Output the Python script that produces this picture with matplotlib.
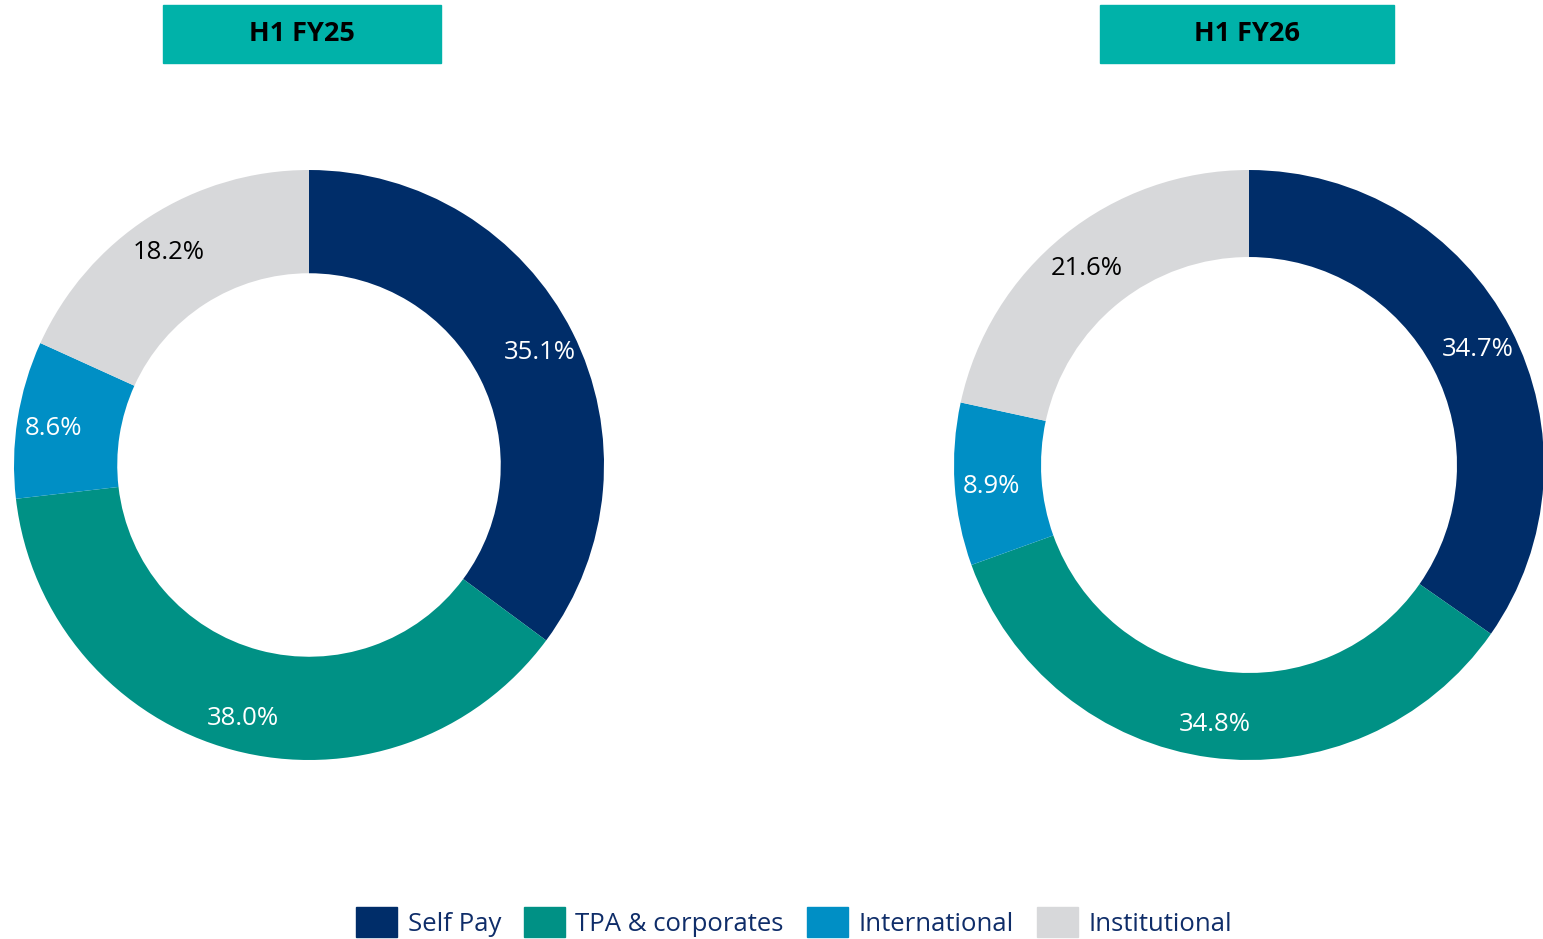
import matplotlib
matplotlib.use('Agg')
import matplotlib.pyplot as plt
from matplotlib.patches import Rectangle
from matplotlib.transforms import offset_copy

categories = ['Self Pay', 'TPA & corporates', 'International', 'Institutional']
fy25 = [35.1, 38.0, 8.6, 18.2]
fy26 = [34.7, 34.8, 8.9, 21.6]
titles = ['H1 FY25', 'H1 FY26']
colors = ['#002D69', '#009185', '#008FC5', '#D7D8DA']
text_colors = ['white', 'white', 'white', 'black']

plt.rcParams['font.family'] = ['Open Sans', 'DejaVu Sans']

W, H = 1543, 939
fig = plt.figure(figsize=(W / 100, H / 100), dpi=100)

def px_axes(cx, cy, r):
    # cx, cy in pixels from top-left, r = outer radius in px
    return fig.add_axes([(cx - r) / W, (H - cy - r) / H, 2 * r / W, 2 * r / H])

def donut(ax, vals, ring):
    it = iter(vals)
    wedges, _, autotexts = ax.pie(vals, colors=colors, startangle=90, counterclock=False,
                                  radius=1, wedgeprops=dict(width=ring, linewidth=0),
                                  autopct=lambda p: f'{next(it):.1f}%', pctdistance=0.875,
                                  textprops=dict(fontsize=18.5))
    for t, c in zip(autotexts, text_colors):
        t.set_color(c)
        t.set_transform(offset_copy(t.get_transform(), fig=fig, y=-4, units='dots'))
    ax.set_xlim(-1, 1)
    ax.set_ylim(-1, 1)
    ax.set_aspect('equal')
    ax.axis('off')

ax1 = px_axes(309, 465, 295)
donut(ax1, fy25, 0.35)
ax2 = px_axes(1249, 465, 295)
donut(ax2, fy26, 0.295)

# title boxes
boxes = [(163, 5, 278, 58), (1100, 5, 294, 58)]
for (x, y, w, h), t in zip(boxes, titles):
    fig.patches.append(Rectangle((x / W, (H - y - h) / H), w / W, h / H,
                                 transform=fig.transFigure, color='#00B2A9', zorder=0))
    fig.text((x + w / 2) / W, (H - y - h / 2) / H, t, ha='center', va='center',
             fontsize=19.5, fontweight='bold', color='black')

handles = [Rectangle((0, 0), 1, 1, color=c) for c in colors]
leg = fig.legend(handles, categories, loc='center', bbox_to_anchor=(794 / W, (H - 922) / H),
                 ncol=4, frameon=False, fontsize=18.5, handlelength=1.6, handleheight=1.4,
                 handletextpad=0.4, columnspacing=0.9)
for t in leg.get_texts():
    t.set_color('#0F2D69')

fig.savefig('out.png', dpi=100)
